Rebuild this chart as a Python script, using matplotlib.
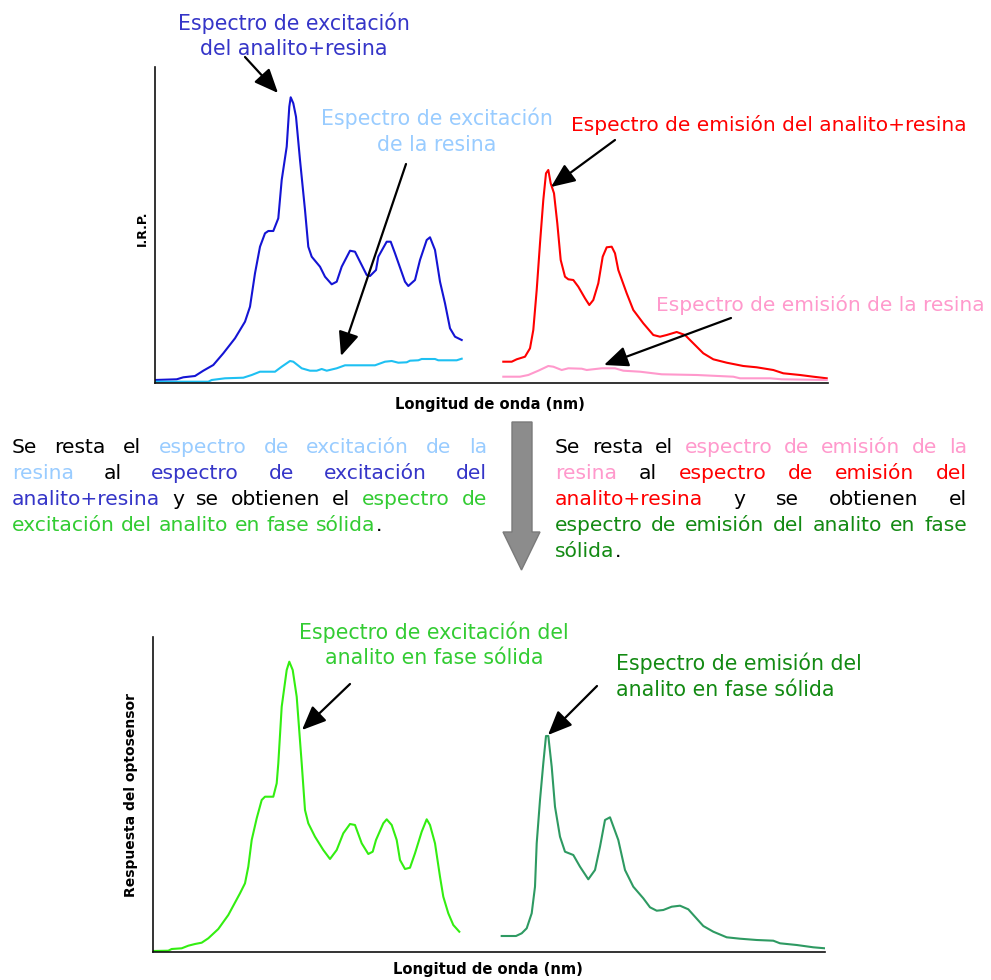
import matplotlib
matplotlib.use("Agg")
import matplotlib.pyplot as plt
from matplotlib.patches import Polygon

plt.rcParams['font.family'] = ['DejaVu Sans']

W, H = 991, 980

# ---------------- spectra (x: wavelength index, y: relative intensity) ----------------
exc_mix_x = [0, 21.7, 28.3, 40, 48.3, 58.3, 68.3, 80, 90, 95, 100, 105, 110, 113.3, 118.3, 123.3,
             126.7, 131.7, 134.3, 135.7, 138.3, 141, 145, 150, 153.3, 156.7, 165, 170, 176.7, 181.7,
             186.7, 195, 200, 205, 211.7, 215, 221, 223.3, 231.7, 235.7, 240, 250, 253.3, 260, 265,
             271.7, 275, 280, 285, 290, 295, 300, 306.7]
exc_mix_y = [3, 3.7, 5.7, 7, 12.3, 18, 29.7, 44.7, 61.3, 76.3, 109.7, 136.3, 149.7, 152, 152, 164.7,
             203, 236.3, 276.3, 285.7, 279.7, 266.3, 223, 173, 136.3, 126.3, 116.3, 106.3, 98.7, 101.3,
             116.3, 132.3, 131.3, 121.3, 108, 107, 113, 126.3, 141.3, 141.3, 129.7, 101.3, 97, 103, 123,
             143, 145.7, 133, 101.3, 79.7, 54.7, 46.3, 43]

exc_resin_x = [0, 53.3, 56.7, 70, 88.3, 96.7, 105, 120, 126.7, 135, 138.3, 146.7, 155, 161.7, 166.7,
               171.7, 181.7, 190, 220, 230, 236.7, 243.3, 251.7, 255, 263.3, 266.7, 280, 283.3, 301.7,
               306.7]
exc_resin_y = [1.3, 1.3, 3, 4.7, 5.3, 8, 11.3, 11.3, 16.3, 22, 21.3, 14.7, 12.3, 12.3, 14, 12.3, 14.7,
               17.7, 17.7, 21.3, 22, 20.3, 20.7, 22.3, 22.7, 24, 24, 22.7, 22.7, 24.3]

em_mix_x = [348.3, 356.7, 361.7, 370, 375, 378.3, 381.7, 385, 388.3, 391, 393.3, 395.7, 399, 402.3,
            405.7, 410, 413.3, 418.3, 423.3, 430, 434.3, 438.3, 443.3, 447.7, 451.7, 456.7, 460, 463.3,
            471.7, 478.3, 488.3, 498.3, 505, 511.7, 521.7, 530, 538.3, 548.3, 558.3, 571.7, 588.3,
            601.7, 618.3, 628.3, 645, 658.3, 671.7]
em_mix_y = [21.3, 21.3, 23.7, 26.3, 34.7, 53, 93, 139.7, 183, 209.7, 213, 199.7, 189.7, 159.7, 123,
            106.3, 103.7, 103, 96.3, 84.7, 78, 83, 99.7, 126.3, 135.7, 136.3, 129.7, 113, 89.7, 73,
            59.7, 48, 46.3, 48, 51, 48, 39.7, 29.7, 23.7, 20.3, 17, 15.7, 13, 9.7, 8, 6.3, 4.7]

em_resin_x = [348.3, 365, 373.3, 383.3, 393.3, 398.3, 406.7, 413.3, 426.7, 431.7, 446.7, 460, 468.3,
              485, 506.7, 541.7, 578.3, 585, 615, 626.7, 671.7]
em_resin_y = [6.3, 6.3, 8, 12.3, 17, 16.3, 13, 14.7, 14.3, 13, 14.7, 14.7, 12.3, 11.3, 8.7, 8, 6.3,
              4.7, 4.7, 3.7, 3]

exc_solid_x = [0, 15.3, 18.7, 28.7, 35.3, 42, 48.7, 55.3, 65.3, 75.3, 87, 92, 95.3, 98.7, 103.7,
               108.7, 112, 120.3, 123.7, 125.3, 128.7, 133.7, 136.3, 139.7, 143.7, 148.7, 152, 155.3,
               162, 170.3, 177, 183.7, 190.3, 197, 202, 208.7, 215.3, 219.7, 223, 230.3, 233.7, 238.7,
               243.7, 247, 252, 257, 262, 268.7, 273.7, 277, 282, 287, 290.3, 295.3, 300.3, 306.3]
exc_solid_y = [1, 1.3, 3, 3.7, 6.3, 8, 9.3, 13.7, 23, 37, 58.7, 68.7, 85.3, 112, 133.7, 152, 155.3,
               155.3, 168.7, 188.7, 245.3, 282, 290.3, 282, 255.3, 188.7, 142, 128.7, 115.3, 102, 93,
               102, 118.7, 128, 127, 108.7, 98, 100.3, 112, 128.7, 132.7, 127, 112, 92, 83, 84.3, 98.7,
               120.3, 132.7, 127, 108.7, 75.3, 55.3, 38.7, 27, 20.3]

em_solid_x = [348.7, 363, 368.7, 373.7, 378.7, 382, 383.7, 387, 390.3, 393, 395.3, 398.7, 402, 407,
              412, 420.3, 427, 435.3, 442, 447, 452, 457, 465.3, 472, 480.3, 490.3, 497, 503.7, 510.3,
              518.7, 527, 535.3, 550.3, 560.3, 573.7, 587, 603.7, 620.3, 627, 643.7, 660.3, 672]
em_solid_y = [16, 16, 18.7, 23.7, 38.7, 65.3, 108.7, 152, 188.7, 216, 216, 185.3, 145.3, 115.3, 100.3,
              97, 85.3, 72.7, 82, 105.3, 132, 134.7, 112, 82, 65.3, 53.7, 44.7, 41.3, 42, 45.3, 46.3,
              42.7, 26, 20.3, 14.7, 13.3, 12, 11.3, 8.7, 7, 4.7, 3.7]

# ---------------- colours ----------------
C_BLUE_LINE = '#1414d4'
C_CYAN_LINE = '#1ec0f2'
C_RED = '#ff0000'
C_PINK = '#ff99cc'
C_GREEN_LINE = '#33ee11'
C_DGREEN_LINE = '#2e9a62'
C_BLUE_TXT = '#3535c8'
C_LBLUE_TXT = '#99ccff'
C_GREEN_TXT = '#33cc33'
C_DGREEN_TXT = '#138a13'

fig = plt.figure(figsize=(W / 100, H / 100), dpi=100)


def fx(px):
    return px / W


def fy(py):
    return 1 - py / H


def make_axes(left, top, right, bottom):
    ax = fig.add_axes([fx(left), fy(bottom), fx(right) - fx(left), fy(top) - fy(bottom)])
    ax.set_xlim(0, right - left)
    ax.set_ylim(0, bottom - top)
    for s in ('top', 'right'):
        ax.spines[s].set_visible(False)
    for s in ('left', 'bottom'):
        ax.spines[s].set_linewidth(1.2)
        ax.spines[s].set_color('#111111')
    ax.set_xticks([])
    ax.set_yticks([])
    ax.patch.set_alpha(0)
    return ax


ax1 = make_axes(155, 67, 828, 383)
ax2 = make_axes(153, 637, 825, 952)

lw = 1.5
ax1.plot(exc_mix_x, exc_mix_y, color=C_BLUE_LINE, lw=lw)
ax1.plot(exc_resin_x, exc_resin_y, color=C_CYAN_LINE, lw=lw)
ax1.plot(em_mix_x, em_mix_y, color=C_RED, lw=lw)
ax1.plot(em_resin_x, em_resin_y, color=C_PINK, lw=lw)
ax2.plot(exc_solid_x, exc_solid_y, color=C_GREEN_LINE, lw=lw)
ax2.plot(em_solid_x, em_solid_y, color=C_DGREEN_LINE, lw=lw)

# ---------------- arrows pointing at the spectra ----------------
arrow_kw = dict(arrowstyle='-|>,head_length=0.7,head_width=0.3', color='black', lw=1.6,
                mutation_scale=21, shrinkA=0, shrinkB=0)


def pointer(ax, tail, tip):
    ax.annotate('', xy=tip, xytext=tail, xycoords='data', textcoords='data',
                arrowprops=arrow_kw, annotation_clip=False)


pointer(ax1, (90, 326), (123, 290))
pointer(ax1, (251, 219), (186, 27))
pointer(ax1, (460, 243), (396, 196))
pointer(ax1, (576, 65), (449, 18))
pointer(ax2, (197, 268), (149, 222))
pointer(ax2, (444, 266), (395, 217))

# ---------------- labels ----------------
LBL = 14.8


def label(x, y, s, color, ha='center', size=LBL, **kw):
    fig.text(fx(x), fy(y), s, color=color, ha=ha, va='baseline', fontsize=size, **kw)


label(294, 30, 'Espectro de excitación', C_BLUE_TXT)
label(294, 55, 'del analito+resina', C_BLUE_TXT)
label(437, 125, 'Espectro de excitación', C_LBLUE_TXT)
label(437, 151, 'de la resina', C_LBLUE_TXT)
label(769, 131, 'Espectro de emisión del analito+resina', C_RED, size=14.5)
label(820, 311, 'Espectro de emisión de la resina', C_PINK, size=14.5)
label(434, 639, 'Espectro de excitación del', C_GREEN_TXT)
label(434, 664, 'analito en fase sólida', C_GREEN_TXT)
label(616, 670, 'Espectro de emisión del', C_DGREEN_TXT, ha='left')
label(616, 696, 'analito en fase sólida', C_DGREEN_TXT, ha='left')

# axis titles
fig.text(fx(490), fy(405), 'Longitud de onda (nm)', ha='center', va='center',
         fontsize=10.6, fontweight='bold')
fig.text(fx(488), fy(969), 'Longitud de onda (nm)', ha='center', va='center',
         fontsize=10.6, fontweight='bold')
fig.text(fx(142), fy(228), 'I.R.P.', ha='center', va='center', rotation=90,
         fontsize=9, fontweight='bold')
fig.text(fx(131), fy(795), 'Respuesta del optosensor', ha='center', va='center', rotation=90,
         fontsize=10, fontweight='bold')

# ---------------- big downward arrow between the panels ----------------
arrow_pts = [(512, 422), (532, 422), (532, 532), (540, 532), (521.5, 570), (503, 532), (512, 532)]
fig.add_artist(Polygon([(fx(x), fy(y)) for x, y in arrow_pts], closed=True,
                       transform=fig.transFigure, facecolor='#8c8c8c', edgecolor='#7a7a7a', lw=1))

# ---------------- justified explanatory paragraphs ----------------
renderer = fig.canvas.get_renderer()
PARA = 14.6
K = 'black'


def text_width(s):
    t = fig.text(0, 0, s, fontsize=PARA)
    w = t.get_window_extent(renderer).width
    t.remove()
    return w


SPACE = text_width('n n') - text_width('nn')


def paragraph(x0, x1, y0, step, lines):
    for i, (segments, justify) in enumerate(lines):
        words = []
        for text, color in segments:
            if text == '.':
                words.append(('.', color, True))
                continue
            for w in text.split():
                words.append((w, color, False))
        widths = [text_width(w) for w, _, _ in words]
        n_gaps = sum(1 for j, (_, _, glued) in enumerate(words) if j > 0 and not glued)
        if justify and n_gaps:
            gap = (x1 - x0 - sum(widths)) / n_gaps
        else:
            gap = SPACE
        x = x0
        y = y0 + i * step
        for j, ((w, color, glued), wd) in enumerate(zip(words, widths)):
            if j > 0 and not glued:
                x += gap
            fig.text(fx(x), fy(y), w, color=color, fontsize=PARA, ha='left', va='baseline')
            x += wd


paragraph(12, 487, 453, 26, [
    ([('Se resta el', K), ('espectro de excitación de la', C_LBLUE_TXT)], True),
    ([('resina', C_LBLUE_TXT), ('al', K), ('espectro de excitación del', C_BLUE_TXT)], True),
    ([('analito+resina', C_BLUE_TXT), ('y se obtienen el', K), ('espectro de', C_GREEN_TXT)], True),
    ([('excitación del analito en fase sólida', C_GREEN_TXT), ('.', K)], False),
])

paragraph(555, 967, 453, 26, [
    ([('Se resta el', K), ('espectro de emisión de la', C_PINK)], True),
    ([('resina', C_PINK), ('al', K), ('espectro de emisión del', C_RED)], True),
    ([('analito+resina', C_RED), ('y se obtienen el', K)], True),
    ([('espectro de emisión del analito en fase', C_DGREEN_TXT)], True),
    ([('sólida', C_DGREEN_TXT), ('.', K)], False),
])

fig.savefig('out.png', dpi=100)
